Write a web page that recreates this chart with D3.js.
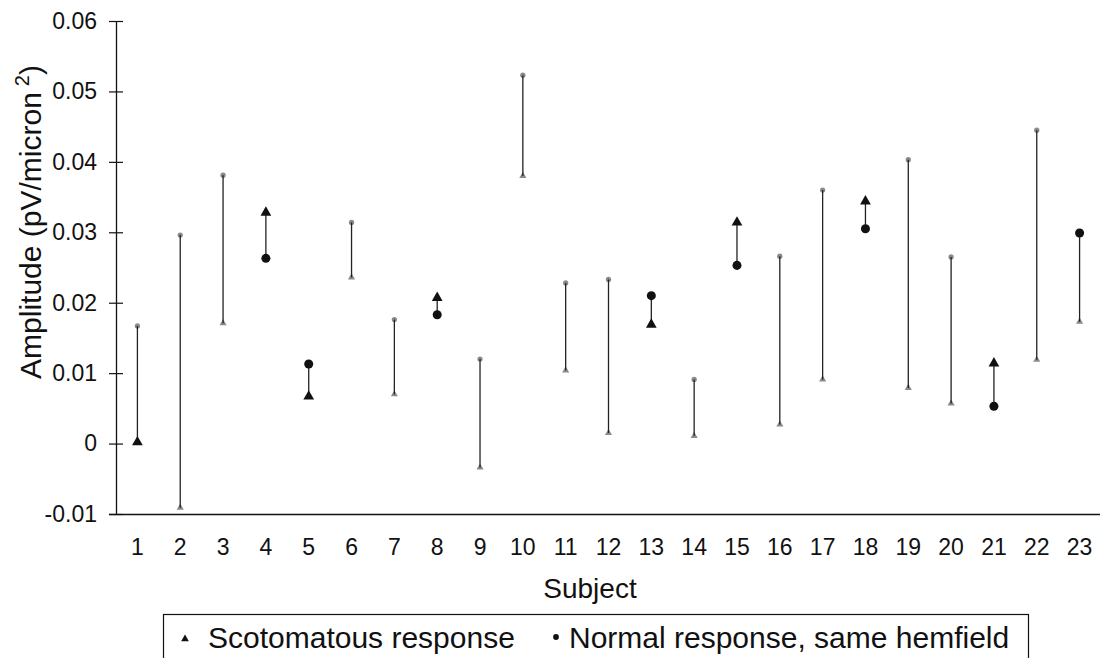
<!DOCTYPE html>
<html><head><meta charset="utf-8">
<script src="https://cdn.jsdelivr.net/npm/d3@7"></script>
<style>
html,body{margin:0;padding:0;background:#fff;}
svg{display:block;font-family:"Liberation Sans",Arial,sans-serif;}
</style>
</head><body>
<svg id="c" width="1100" height="658"></svg>
<script>
// ---- data ----
const subjects = ["1","2","3","4","5","6","7","8","9","10","11","12","13","14","15","16","17","18","19","20","21","22","23"];
const scotomatous = [0.0002,-0.0091,0.0171,0.0328,0.0067,0.0236,0.0070,0.0207,-0.0034,0.0380,0.0104,0.0015,0.0169,0.0011,0.0314,0.0027,0.0091,0.0344,0.0079,0.0057,0.0114,0.0119,0.0173];
const normal =      [0.0167,0.0296,0.0381,0.0263,0.0113,0.0314,0.0176,0.0183,0.0120,0.0523,0.0228,0.0233,0.0210,0.0091,0.0253,0.0266,0.0360,0.0305,0.0403,0.0265,0.0053,0.0445,0.0299];
// markers that are legible in the source (the others are barely visible specks)
const legibleScotomatous = ["1","4","5","8","13","15","18","21"];
const legibleNormal = ["4","5","8","13","15","18","21","23"];
const yTicks = [-0.01,0,0.01,0.02,0.03,0.04,0.05,0.06];
const yTickLabels = ["-0.01","0","0.01","0.02","0.03","0.04","0.05","0.06"];
const xTitle = "Subject";
const yTitleMain = "Amplitude (pV/micron";
const yTitleSup = "2";
const legendLabels = ["Scotomatous response","Normal response, same hemfield"];

// ---- chart ----
const svg = d3.select("#c");
const x = d3.scaleBand().domain(subjects).range([116, 1101]);
const y = d3.scaleLinear().domain([-0.01, 0.06]).range([514, 21]);
const cx = s => x(s) + x.bandwidth() / 2;

const rows = subjects.map((s, i) => ({s, scot: scotomatous[i], norm: normal[i]}));

// y axis
const gy = svg.append("g").attr("transform", "translate(116,0)")
  .call(d3.axisLeft(y).tickValues(yTicks).tickFormat((d, i) => yTickLabels[i]).tickSize(7).tickSizeOuter(0).tickPadding(12));
gy.select(".domain").attr("stroke", "#111").attr("stroke-width", 1.3);
gy.selectAll(".tick line").attr("x1", 7).attr("stroke", "#111").attr("stroke-width", 1.2);
gy.selectAll(".tick text").attr("font-size", 23).attr("fill", "#111").attr("font-family", "Liberation Sans, Arial, sans-serif");

// x axis
const gx = svg.append("g").attr("transform", "translate(0,514)")
  .call(d3.axisBottom(x).tickSize(0).tickSizeOuter(0).tickPadding(25));
gx.select(".domain").attr("d", "M109,0.5H1100").attr("stroke", "#111").attr("stroke-width", 1.3);
gx.selectAll(".tick text").attr("font-size", 23).attr("fill", "#111").attr("font-family", "Liberation Sans, Arial, sans-serif");

const tri = d3.symbol().type(d3.symbolTriangle);
const circ = d3.symbol().type(d3.symbolCircle);

// faint specks for barely visible markers
const faint = svg.append("g");
rows.forEach(r => {
  if (!legibleScotomatous.includes(r.s)) {
    faint.append("path").attr("d", tri.size(22)()).attr("transform", `translate(${cx(r.s)},${y(r.scot)})`).attr("fill", "#8a8a8a");
  }
  if (!legibleNormal.includes(r.s)) {
    faint.append("path").attr("d", circ.size(22)()).attr("transform", `translate(${cx(r.s)},${y(r.norm)})`).attr("fill", "#8a8a8a");
  }
});

// connecting lines
svg.append("g").selectAll("line").data(rows).join("line")
  .attr("x1", d => cx(d.s)).attr("x2", d => cx(d.s))
  .attr("y1", d => y(d.scot)).attr("y2", d => y(d.norm))
  .attr("stroke", "#222").attr("stroke-width", 1.3);

// legible markers
const mk = svg.append("g");
rows.forEach(r => {
  if (legibleScotomatous.includes(r.s)) {
    mk.append("path").attr("d", tri.size(50)()).attr("transform", `translate(${cx(r.s)},${y(r.scot)})`).attr("fill", "#111");
  }
  if (legibleNormal.includes(r.s)) {
    mk.append("path").attr("d", circ.size(64)()).attr("transform", `translate(${cx(r.s)},${y(r.norm)})`).attr("fill", "#111");
  }
});

// titles
svg.append("text").attr("x", 590).attr("y", 598).attr("text-anchor", "middle")
  .attr("font-size", 28).attr("fill", "#111").text(xTitle);

const yt = svg.append("text").attr("transform", "translate(41,222) rotate(-90)")
  .attr("text-anchor", "middle").attr("font-size", 30).attr("fill", "#111");
yt.append("tspan").text(yTitleMain);
yt.append("tspan").attr("dx", 6).attr("dy", -12).attr("font-size", 20).text(yTitleSup);
yt.append("tspan").attr("dy", 12).text(")");

// legend
const lg = svg.append("g");
lg.append("rect").attr("x", 163.5).attr("y", 614.5).attr("width", 865).attr("height", 70)
  .attr("fill", "#fff").attr("stroke", "#111").attr("stroke-width", 1.2);
lg.append("path").attr("d", tri.size(26)()).attr("transform", "translate(185,639)").attr("fill", "#111");
lg.append("text").attr("x", 208).attr("y", 648).attr("font-size", 30).attr("fill", "#111").text(legendLabels[0]);
lg.append("path").attr("d", circ.size(26)()).attr("transform", "translate(556,637)").attr("fill", "#111");
lg.append("text").attr("x", 569).attr("y", 648).attr("font-size", 30).attr("fill", "#111").text(legendLabels[1]);
</script>
</body></html>
